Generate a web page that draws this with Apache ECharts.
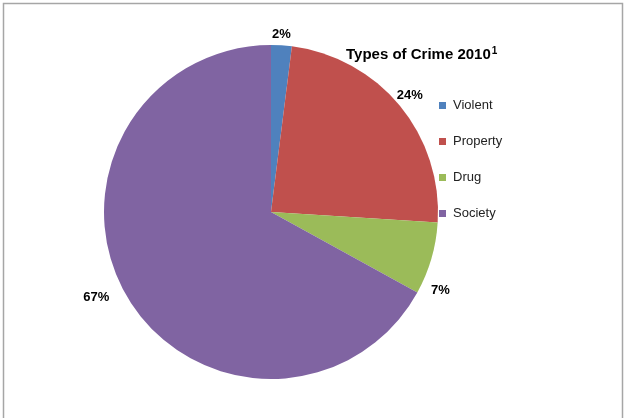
<!DOCTYPE html>
<html><head><meta charset="utf-8">
<script src="https://cdn.jsdelivr.net/npm/echarts@6/dist/echarts.min.js"></script>
<style>html,body{margin:0;padding:0;background:#fff}#c{width:627px;height:418px}</style>
</head><body><div id="c"></div>
<script>
const categories = ["Violent", "Property", "Drug", "Society"];
const values = [2, 24, 7, 67];
const colors = ["#4F81BD", "#C0504D", "#9BBB59", "#8064A2"];
const labelOffsets = [[-15, -3], [-14, -5], [-13, 30], [-6, -4]];

const chart = echarts.init(document.getElementById('c'), null, {renderer: 'canvas'});
chart.setOption({
  animation: false,
  color: colors,
  graphic: [{
    type: 'rect',
    shape: {x: 3.5, y: 3.5, width: 619, height: 430},
    style: {fill: 'none', stroke: '#a6a6a6', lineWidth: 1.5}
  }],
  title: {
    text: '{t|Types of Crime 2010}{s|1}',
    left: 346, top: 46, padding: 0,
    textStyle: {
      rich: {
        t: {fontFamily: 'Liberation Sans', fontWeight: 'bold', fontSize: 15, color: '#000'},
        s: {fontFamily: 'Liberation Sans', fontWeight: 'bold', fontSize: 10, color: '#000', verticalAlign: 'top', padding: [0,0,8,1]}
      }
    }
  },
  legend: {
    orient: 'vertical',
    left: 434, top: 94,
    itemWidth: 7, itemHeight: 7,
    itemGap: 23,
    icon: 'rect',
    textStyle: {fontFamily: 'Liberation Sans', fontSize: 13, color: '#222', padding: [0,0,0,2]},
    data: categories
  },
  series: [{
    type: 'pie',
    center: [271, 212],
    radius: 167,
    startAngle: 90,
    clockwise: true,
    avoidLabelOverlap: false,
    label: {
      show: true, position: 'outside',
      formatter: '{c}%',
      fontFamily: 'Liberation Sans', fontWeight: 'bold', fontSize: 13, color: '#000'
    },
    labelLine: {show: false, length: 8, length2: 0},
    data: categories.map((n, i) => ({name: n, value: values[i], label: {offset: labelOffsets[i]}}))
  }]
});
</script></body></html>
